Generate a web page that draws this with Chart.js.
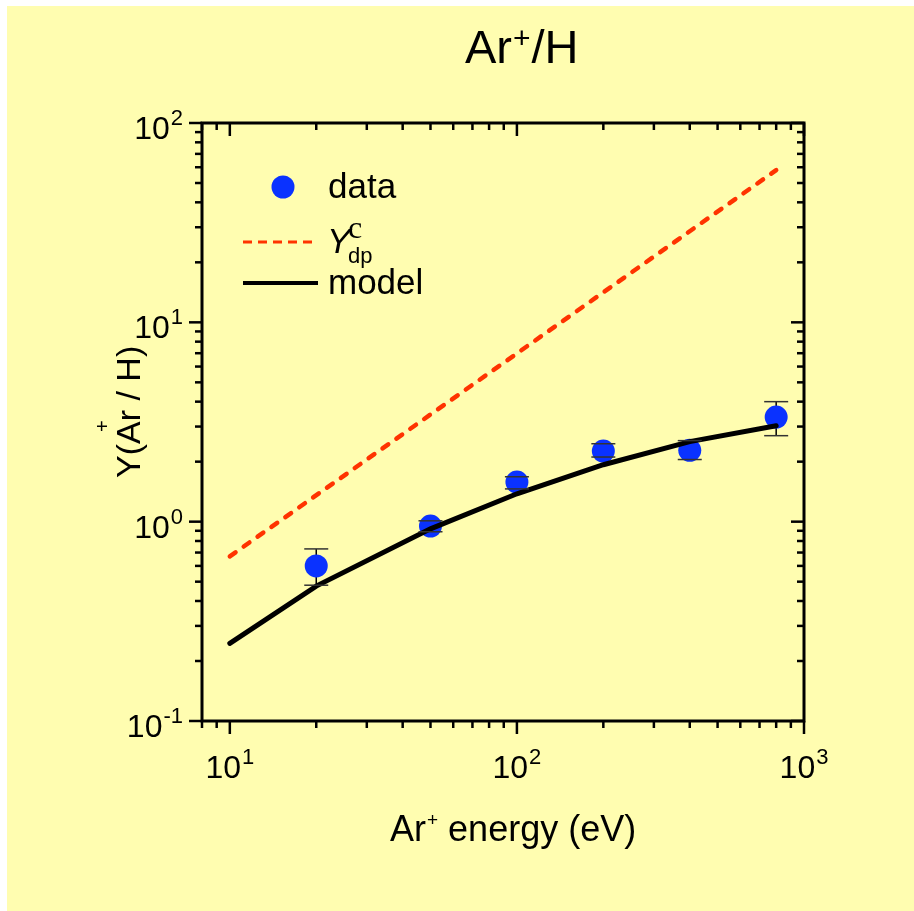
<!DOCTYPE html>
<html>
<head>
<meta charset="utf-8">
<script src="https://cdn.jsdelivr.net/npm/chart.js@4.4.0/dist/chart.umd.min.js"></script>
<style>
  html, body { margin: 0; padding: 0; background: #fff; }
  canvas { display: block; }
</style>
</head>
<body>
<canvas id="yieldChart" width="914" height="911"></canvas>
<script>
// measured Ar+ on H yields
const energy = [20, 50, 100, 200, 400, 800];
const yieldData = [0.60, 0.95, 1.58, 2.26, 2.28, 3.35];
const errLow = [0.48, 0.89, 1.46, 2.11, 2.05, 2.70];
const errHigh = [0.73, 1.01, 1.68, 2.46, 2.55, 4.00];

// model curve
const modelE = [10, 20, 50, 100, 200, 400, 800];
const modelY = [0.245, 0.475, 0.92, 1.38, 1.93, 2.52, 3.03];

// Y^c_dp line
const ydpE = [10, 800];
const ydpY = [0.67, 58];

const xMajor = [10, 100, 1000];
const xMinor = [8, 9, 20, 30, 40, 50, 60, 70, 80, 90, 200, 300, 400, 500, 600, 700, 800, 900];
const yMajor = [0.1, 1, 10, 100];
const yMinor = [0.2, 0.3, 0.4, 0.5, 0.6, 0.7, 0.8, 0.9, 2, 3, 4, 5, 6, 7, 8, 9, 20, 30, 40, 50, 60, 70, 80, 90];
const xTickLabels = [['10', '1'], ['10', '2'], ['10', '3']];
const yTickLabels = [['10', '-1'], ['10', '0'], ['10', '1'], ['10', '2']];

const SANS = '"Liberation Sans", Arial, sans-serif';
const BLUE = '#0a32ff';
const RED = '#ff3300';

function pts(xs, ys) {
  return xs.map((x, i) => ({ x: x, y: ys[i] }));
}

// draws base text followed by a raised smaller part, returns end x
function supText(ctx, base, sup, x, y, baseSize, supSize, raise) {
  ctx.font = baseSize + 'px ' + SANS;
  ctx.fillText(base, x, y);
  const w = ctx.measureText(base).width;
  ctx.font = supSize + 'px ' + SANS;
  ctx.fillText(sup, x + w + 1, y - raise);
  return x + w + 1 + ctx.measureText(sup).width;
}

function supWidth(ctx, base, sup, baseSize, supSize) {
  ctx.font = baseSize + 'px ' + SANS;
  const wb = ctx.measureText(base).width;
  ctx.font = supSize + 'px ' + SANS;
  return wb + 1 + ctx.measureText(sup).width;
}

const background = {
  id: 'background',
  beforeDraw(chart) {
    const ctx = chart.ctx;
    ctx.save();
    ctx.fillStyle = '#ffffff';
    ctx.fillRect(0, 0, chart.width, chart.height);
    ctx.fillStyle = '#fffdb0';
    ctx.fillRect(7, 6, chart.width - 7, chart.height - 6);
    ctx.restore();
  }
};

const errorBars = {
  id: 'errorBars',
  beforeDatasetsDraw(chart) {
    const ctx = chart.ctx, xs = chart.scales.x, ys = chart.scales.y;
    ctx.save();
    ctx.strokeStyle = '#000';
    ctx.lineWidth = 1.5;
    energy.forEach((e, i) => {
      const px = xs.getPixelForValue(e);
      ctx.beginPath();
      ctx.moveTo(px, ys.getPixelForValue(errLow[i]));
      ctx.lineTo(px, ys.getPixelForValue(errHigh[i]));
      ctx.stroke();
    });
    ctx.restore();
  },
  afterDatasetsDraw(chart) {
    const ctx = chart.ctx, xs = chart.scales.x, ys = chart.scales.y;
    ctx.save();
    ctx.strokeStyle = '#333';
    ctx.lineWidth = 1.5;
    energy.forEach((e, i) => {
      const px = xs.getPixelForValue(e);
      [errLow[i], errHigh[i]].forEach(v => {
        const py = ys.getPixelForValue(v);
        ctx.beginPath();
        ctx.moveTo(px - 12, py);
        ctx.lineTo(px + 12, py);
        ctx.stroke();
      });
    });
    ctx.restore();
  }
};

const frame = {
  id: 'frame',
  afterDraw(chart) {
    const ctx = chart.ctx, a = chart.chartArea;
    const xs = chart.scales.x, ys = chart.scales.y;
    ctx.save();
    ctx.strokeStyle = '#000';
    ctx.fillStyle = '#000';
    ctx.lineWidth = 3;
    ctx.strokeRect(a.left, a.top, a.right - a.left, a.bottom - a.top);

    ctx.lineWidth = 2.5;
    function tick(x1, y1, x2, y2) {
      ctx.beginPath();
      ctx.moveTo(x1, y1);
      ctx.lineTo(x2, y2);
      ctx.stroke();
    }
    xMajor.forEach(v => {
      const px = xs.getPixelForValue(v);
      tick(px, a.bottom, px, a.bottom + 13);
      tick(px, a.top, px, a.top + 13);
    });
    xMinor.forEach(v => {
      const px = xs.getPixelForValue(v);
      tick(px, a.bottom, px, a.bottom + 7);
      tick(px, a.top, px, a.top + 7);
    });
    yMajor.forEach(v => {
      const py = ys.getPixelForValue(v);
      tick(a.left - 13, py, a.left, py);
      tick(a.right - 13, py, a.right, py);
    });
    yMinor.forEach(v => {
      const py = ys.getPixelForValue(v);
      tick(a.left - 7, py, a.left, py);
      tick(a.right - 7, py, a.right, py);
    });

    // tick labels
    ctx.textAlign = 'left';
    ctx.textBaseline = 'alphabetic';
    xMajor.forEach((v, i) => {
      const px = xs.getPixelForValue(v);
      const w = supWidth(ctx, xTickLabels[i][0], xTickLabels[i][1], 32, 22);
      supText(ctx, xTickLabels[i][0], xTickLabels[i][1], px - w / 2, a.bottom + 57, 32, 22, 14);
    });
    yMajor.forEach((v, i) => {
      const py = ys.getPixelForValue(v);
      const w = supWidth(ctx, yTickLabels[i][0], yTickLabels[i][1], 32, 22);
      supText(ctx, yTickLabels[i][0], yTickLabels[i][1], a.left - 19 - w, py + 16, 32, 22, 14);
    });

    // title
    let x = supText(ctx, 'Ar', '+', 465, 63, 47, 30, 15);
    ctx.font = '47px ' + SANS;
    ctx.fillText('/H', x + 1, 63);

    // x axis title
    x = supText(ctx, 'Ar', '+', 390, 841, 36, 19, 15);
    ctx.font = '36px ' + SANS;
    ctx.fillText(' energy (eV)', x, 841);

    // y axis title
    ctx.save();
    ctx.translate(140, 478);
    ctx.rotate(-Math.PI / 2);
    ctx.font = '34px ' + SANS;
    ctx.fillText('Y(Ar / H)', 0, 0);
    ctx.font = '20px ' + SANS;
    ctx.fillText('+', 46, -31);
    ctx.restore();

    // legend
    ctx.fillStyle = BLUE;
    ctx.beginPath();
    ctx.arc(283, 187, 11.5, 0, Math.PI * 2);
    ctx.fill();
    ctx.fillStyle = '#000';
    ctx.font = '35px ' + SANS;
    ctx.fillText('data', 328, 198);

    ctx.strokeStyle = RED;
    ctx.lineWidth = 3;
    ctx.setLineDash([9, 6]);
    tick(243, 242, 318, 242);
    ctx.setLineDash([]);
    ctx.font = 'italic 35px ' + SANS;
    ctx.fillText('Y', 327, 253);
    ctx.font = '32px "Liberation Serif", serif';
    ctx.fillText('c', 348, 238);
    ctx.font = '22px ' + SANS;
    ctx.fillText('dp', 348, 263);

    ctx.strokeStyle = '#000';
    ctx.lineWidth = 4;
    tick(243, 283, 318, 283);
    ctx.font = '35px ' + SANS;
    ctx.fillText('model', 328, 294);
    ctx.restore();
  }
};

const chart = new Chart(document.getElementById('yieldChart'), {
  type: 'scatter',
  data: {
    datasets: [
      {
        label: 'model',
        data: pts(modelE, modelY),
        showLine: true,
        borderColor: '#000',
        borderWidth: 5,
        borderCapStyle: 'round',
        pointRadius: 0,
        order: 1
      },
      {
        label: 'Ydp',
        data: pts(ydpE, ydpY),
        showLine: true,
        borderColor: RED,
        borderWidth: 4.5,
        borderDash: [7, 10],
        borderCapStyle: 'round',
        pointRadius: 0,
        order: 2
      },
      {
        label: 'data',
        data: pts(energy, yieldData),
        backgroundColor: BLUE,
        borderWidth: 0,
        pointRadius: 11.5,
        order: 3
      }
    ]
  },
  options: {
    responsive: false,
    animation: false,
    layout: { padding: { left: 202, right: 110, top: 123, bottom: 190 } },
    plugins: {
      legend: { display: false },
      tooltip: { enabled: false }
    },
    scales: {
      x: {
        type: 'logarithmic', min: 8, max: 1000,
        ticks: { display: false },
        grid: { display: false, drawTicks: false },
        border: { display: false },
        afterFit: s => { s.height = 0; }
      },
      y: {
        type: 'logarithmic', min: 0.1, max: 100,
        ticks: { display: false },
        grid: { display: false, drawTicks: false },
        border: { display: false },
        afterFit: s => { s.width = 0; }
      }
    }
  },
  plugins: [background, errorBars, frame]
});
</script>
</body>
</html>
